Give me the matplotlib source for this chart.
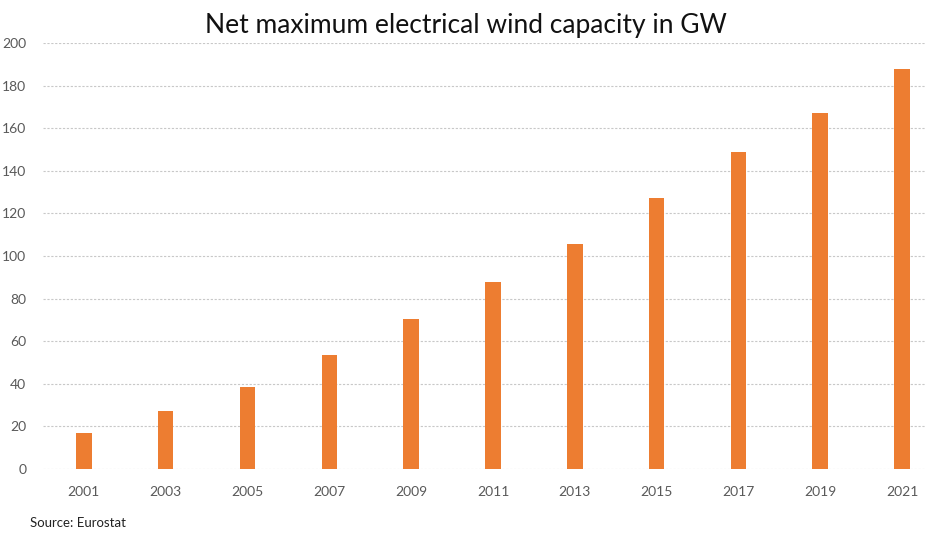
import matplotlib.pyplot as plt

years = ['2001', '2003', '2005', '2007', '2009', '2011', '2013', '2015', '2017', '2019', '2021']
capacity_gw = [17, 27.2, 38.7, 53.6, 70.6, 87.6, 105.5, 127.2, 148.6, 167.2, 187.8]
y_ticks = [0, 20, 40, 60, 80, 100, 120, 140, 160, 180, 200]

plt.rcParams['font.family'] = ['Lato', 'DejaVu Sans']

fig = plt.figure(figsize=(9.31, 5.33), dpi=100)
ax = fig.add_axes([43 / 931, 1 - 469 / 533, 882 / 931, 426 / 533])

x = range(len(years))
ax.bar(x, capacity_gw, width=0.19, color='#ED7D31', zorder=3)

ax.set_xlim(-0.5, 10.28)
ax.set_ylim(0, 200)
ax.set_yticks(y_ticks)
ax.set_xticks(list(x))
ax.set_xticklabels(years)
ax.yaxis.grid(True, color='#c8c8c8', linestyle=(0, (2, 1.5)), linewidth=0.8, zorder=0)
for s in ax.spines.values():
    s.set_visible(False)
ax.tick_params(axis='both', length=0, labelsize=10, colors='#595959')
ax.tick_params(axis='x', pad=12)
ax.tick_params(axis='y', pad=12)

fig.text(0.5, 1 - 25 / 533, 'Net maximum electrical wind capacity in GW',
         ha='center', va='center', fontsize=19, color='#111111')
fig.text(30 / 931, 1 - 523 / 533, 'Source: Eurostat', ha='left', va='center',
         fontsize=9.5, color='#222222')

fig.savefig('out.png', dpi=100, facecolor='white')
